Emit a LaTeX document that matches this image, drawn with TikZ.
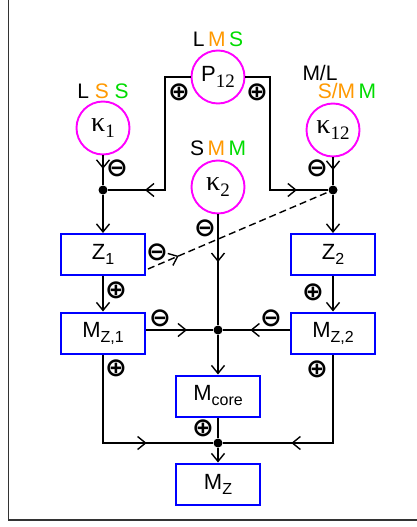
\documentclass[tikz,border=0pt]{standalone}
\usepackage{fontspec}
\setmainfont{Liberation Sans}
\newfontfamily\serifk{Liberation Serif}
\newfontfamily\symf{DejaVu Sans Bold}
\usetikzlibrary{arrows.meta,decorations.markings,calc}
\definecolor{orng}{RGB}{255,153,0}
\definecolor{grn}{RGB}{0,220,0}
\definecolor{mag}{RGB}{255,0,255}
\definecolor{bblue}{RGB}{0,0,255}
\newcommand{\lsub}[1]{\raisebox{-5pt}{\fontsize{16}{16}\selectfont #1}}
\newcommand{\ksub}[1]{\raisebox{-6pt}{\serifk\fontsize{19}{19}\selectfont #1}}
\newcommand{\kap}[1]{{\serifk\fontsize{28}{28}\selectfont κ}\ksub{#1}}
\tikzset{
  >={Straight Barb[length=8pt,width=13pt]},
  line/.style={line width=1.4pt, black},
  circ/.style={circle, draw=mag, line width=1.9pt, minimum size=53pt, inner sep=0pt, font=\fontsize{22}{22}\selectfont},
  boxn/.style={rectangle, draw=bblue, line width=2pt, minimum width=84pt, minimum height=41pt, inner sep=0pt, font=\fontsize{22}{22}\selectfont},
  dot/.style={circle, fill=black, inner sep=0pt, minimum size=9pt},
  lab/.style={inner sep=0pt, font=\fontsize{21}{21}\selectfont},
  sgn/.style={inner sep=0pt, font=\symf\fontsize{26}{26}\selectfont},
  midarr/.style={postaction={decorate}, decoration={markings, mark=at position #1 with {\arrow{>}}}},
}
\begin{document}
\begin{tikzpicture}[x=1pt,y=-1pt]
\useasboundingbox (0,0) rectangle (417,527);
\fill[white] (0,0) rectangle (417,527);
\draw[line width=1.5pt, black!80] (8.5,0) -- (8.5,520) -- (417,520);

% circles
\node[circ] (P12) at (218,77) {P\ksub{12}};
\node[circ] (k1) at (103,128) {\kap{1}};
\node[circ] (k12) at (333,130) {\kap{12}};
\node[circ] (k2) at (218,187) {\kap{2}};

% labels
\node[lab] (lP) at (218,39) {L\,\textcolor{orng}{M}\,\textcolor{grn}{S}};
\node[lab] (l1) at (103,91) {L \textcolor{orng}{S} \textcolor{grn}{S}};
\node[lab] (l12a) at (320,73) {M/L};
\node[lab] (l12b) at (347,91) {\textcolor{orng}{S/M}\,\textcolor{grn}{M}};
\node[lab] (l2) at (218,148) {S\,\textcolor{orng}{M}\,\textcolor{grn}{M}};

% boxes
\node[boxn] (Z1) at (103,254.5) {Z\lsub{1}};
\node[boxn] (Z2) at (333,254.5) {Z\lsub{2}};
\node[boxn] (MZ1) at (103,333) {M\lsub{Z,1}};
\node[boxn] (MZ2) at (333,333) {M\lsub{Z,2}};
\node[boxn] (Mc) at (218,396) {M\lsub{core}};
\node[boxn] (MZ) at (218,484) {M\lsub{Z}};

% dots
\node[dot] (d1) at (103,190) {};
\node[dot] (d2) at (333,190) {};
\node[dot] (d3) at (218,330) {};
\node[dot] (d4) at (218,443) {};
\coordinate (cl) at (165,190);
\coordinate (cr) at (270,190);
\coordinate (bl) at (103,443);
\coordinate (br) at (333,443);

% connectors
\draw[line, midarr=0.81] (P12.west) -| (cl) -- (d1);
\draw[line, midarr=0.84] (P12.east) -| (cr) -- (d2);
\draw[line, midarr=0.45] (k1.south) -- (d1);
\draw[line, midarr=0.45] (k12.south) -- (d2);
\draw[line, midarr=0.43] (k2.south) -- (d3);
\draw[line, ->] (d1) -- (Z1.north);
\draw[line, ->] (d2) -- (Z2.north);
\draw[line, ->] (Z1.south) -- (MZ1.north);
\draw[line, ->] (Z2.south) -- (MZ2.north);
\draw[line, dash pattern=on 7pt off 4pt, midarr=0.17] ($(Z1.south east)+(2,-7)$) -- (d2);
\draw[line, midarr=0.61] (MZ1.east |- d3) -- (d3);
\draw[line, midarr=0.59] (MZ2.west |- d3) -- (d3);
\draw[line, ->] (d3) -- (Mc.north);
\draw[line, midarr=0.665] (MZ1.south) -- (bl) -- (d4);
\draw[line, midarr=0.655] (MZ2.south) -- (br) -- (d4);
\draw[line] (Mc.south) -- (d4);
\draw[line, ->] (d4) -- (MZ.north);

% signs
\node[sgn] (s1) at (179,92) {⊕};
\node[sgn] (s2) at (257,92) {⊕};
\node[sgn] (s3) at (117,168) {⊖};
\node[sgn] (s4) at (317,168) {⊖};
\node[sgn] (s5) at (205,228) {⊖};
\node[sgn] (s6) at (157,252) {⊖};
\node[sgn] (s7) at (116,290) {⊕};
\node[sgn] (s8) at (313,292) {⊕};
\node[sgn] (s9) at (160,318) {⊖};
\node[sgn] (s10) at (271,318) {⊖};
\node[sgn] (s11) at (116,368) {⊕};
\node[sgn] (s12) at (317,369) {⊕};
\node[sgn] (s13) at (203,428) {⊕};
\end{tikzpicture}
\end{document}
